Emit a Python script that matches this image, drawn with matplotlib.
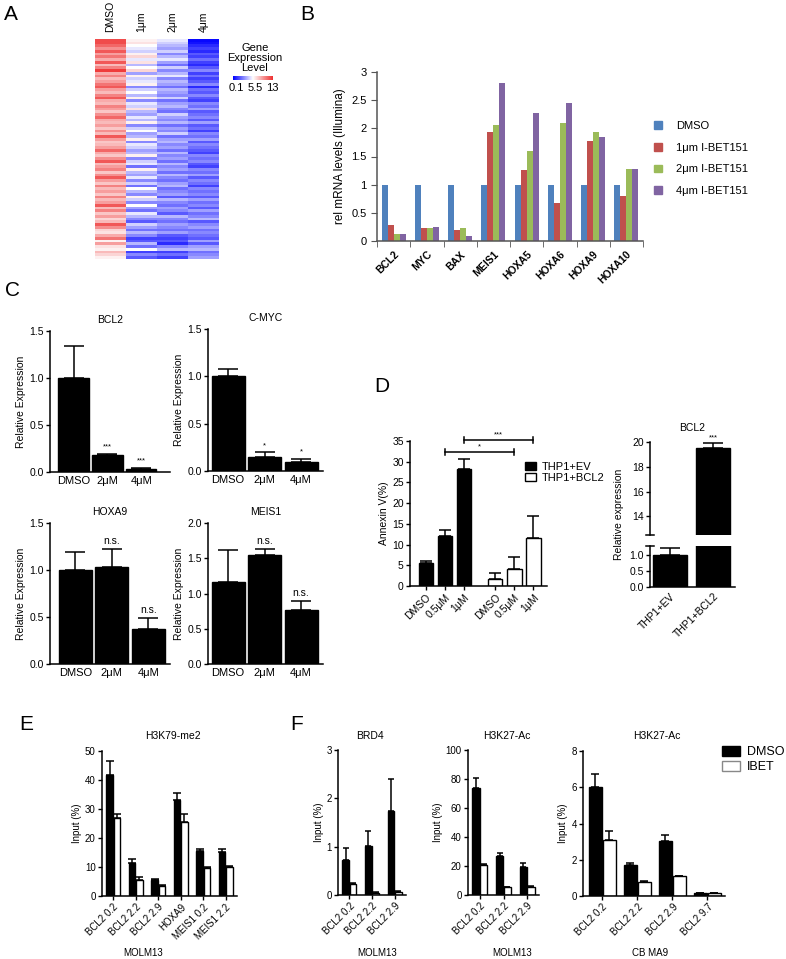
import numpy as np
import matplotlib
matplotlib.use("Agg")
import matplotlib.pyplot as plt
from matplotlib.colors import LinearSegmentedColormap, TwoSlopeNorm
from matplotlib.patches import Patch

plt.rcParams['font.family'] = ['Liberation Sans', 'DejaVu Sans']
plt.rcParams['axes.linewidth'] = 1.1

# ---------------- data ----------------
# A: heatmap (rows = genes, columns = treatments)
heat_cols = ["DMSO", "1μm", "2μm", "4μm"]
heat_dmso = [12, 12, 11, 9.5, 11.5, 9, 10.5, 8.5, 11.5, 8,
             10, 12.5, 8.5, 10, 8, 9, 10.5, 11.5, 9, 8,
             10, 11.5, 8.5, 8, 10, 9, 7.5, 9.5, 11, 8.5,
             8, 9, 7.5, 9.5, 8, 11.5, 9, 7.5, 8, 9,
             11, 8.5, 7.5, 9.5, 11.5, 8, 9, 10, 7.5, 9.5,
             11.5, 9, 7.5, 10, 8, 9, 7.5, 10, 8, 9,
             11.5, 8, 10, 7.5, 9, 7, 8, 11.5, 9.5, 7,
             6.5, 8.5, 10.5, 6, 9, 6.5, 6, 8, 7, 6]
heat_1um = [6, 6.5, 5.5, 5, 4.5, 6, 7, 5, 6.5, 4,
            5.5, 7, 3.5, 6, 4.5, 5, 6, 3, 4.5, 5.5,
            4, 6, 3, 5, 4.5, 6.5, 4, 3.5, 5, 4,
            6, 3, 4.5, 5.5, 3.5, 4, 6, 3, 5, 4.5,
            3.5, 4, 6, 3, 4.5, 5, 2.5, 6, 4, 3.5,
            5, 3, 4.5, 2.5, 5.5, 4, 3, 6, 4.5, 3,
            5.5, 3.5, 2.5, 5, 4, 3, 2, 4.5, 3.5, 2.5,
            4, 3, 1.5, 2, 4, 2.5, 5.5, 1.5, 3, 2]
heat_2um = [5, 4.5, 4, 3.5, 4.5, 3, 4, 5, 3.5, 2.5,
            4.5, 3, 4, 5, 3, 4, 3.5, 2.5, 4, 3.5,
            3, 4.5, 2.5, 3.5, 4, 3, 2.5, 4.5, 3.5, 3,
            4, 2.5, 3.5, 3, 4.5, 2.5, 3.5, 4, 3, 3.5,
            2.5, 4, 3, 3.5, 2.5, 4, 3, 3.5, 2.5, 4,
            3, 2.5, 3.5, 4, 2.5, 3, 3.5, 2, 4, 3,
            2.5, 3.5, 3, 2, 4, 3, 2.5, 3.5, 3, 2.5,
            3.5, 2, 1.5, 2, 1, 3, 4, 1.5, 2.5, 1.5]
heat_4um = [0.3, 0.5, 1, 1.5, 1, 2, 1.5, 2.5, 1.5, 1,
            2, 3, 1.5, 2.5, 1.5, 2, 3, 1, 2.5, 2,
            3, 2, 1.5, 3, 2.5, 3.5, 2, 2.5, 3, 2,
            3.5, 2, 2.5, 1.5, 3, 2.5, 3.5, 2, 3, 2.5,
            2, 1.5, 3, 2.5, 3, 2, 1.5, 3, 2.5, 3.5,
            2, 3, 2.5, 1.5, 3, 2.5, 3, 2, 3.5, 2.5,
            3, 2, 3.5, 2.5, 3, 4, 2, 3, 3.5, 2.5,
            3, 2.5, 2, 3.5, 2, 3.5, 4, 2.5, 3, 3.5]

# B: Illumina relative mRNA
b_genes = ["BCL2", "MYC", "BAX", "MEIS1", "HOXA5", "HOXA6", "HOXA9", "HOXA10"]
b_series = ["DMSO", "1μm I-BET151", "2μm I-BET151", "4μm I-BET151"]
b_dmso = [1, 1, 1, 1, 1, 1, 1, 1]
b_1um = [0.28, 0.23, 0.19, 1.94, 1.26, 0.68, 1.78, 0.80]
b_2um = [0.13, 0.23, 0.23, 2.06, 1.60, 2.09, 1.93, 1.27]
b_4um = [0.12, 0.24, 0.09, 2.80, 2.28, 2.45, 1.84, 1.27]
b_colors = ["#4F81BD", "#C0504D", "#9BBB59", "#8064A2"]

# C: qPCR relative expression
c_conds = ["DMSO", "2μM", "4μM"]
c_bcl2 = [1.0, 0.18, 0.035]
c_bcl2_err = [0.34, 0.015, 0.012]
c_bcl2_sig = ["", "***", "***"]
c_myc = [1.0, 0.15, 0.10]
c_myc_err = [0.08, 0.05, 0.03]
c_myc_sig = ["", "*", "*"]
c_hoxa9 = [1.0, 1.03, 0.37]
c_hoxa9_err = [0.19, 0.19, 0.12]
c_hoxa9_sig = ["", "n.s.", "n.s."]
c_meis1 = [1.17, 1.55, 0.77]
c_meis1_err = [0.45, 0.08, 0.13]
c_meis1_sig = ["", "n.s.", "n.s."]

# D: Annexin V and BCL2 expression
d_conds = ["DMSO", "0.5μM", "1μM", "DMSO", "0.5μM", "1μM"]
d_ev = [5.5, 12.0, 28.3]
d_ev_err = [0.5, 1.6, 2.4]
d_bcl2 = [1.6, 4.0, 11.7]
d_bcl2_err = [1.5, 3.0, 5.2]
d_lines = ["THP1+EV", "THP1+BCL2"]
d_expr = [1.0, 19.5]
d_expr_err = [0.22, 0.4]

# E/F: ChIP
e_sites = ["BCL2 0.2", "BCL2 2.2", "BCL2 2.9", "HOXA9", "MEIS1 0.2", "MEIS1 2.2"]
e_dmso = [41.8, 11.4, 5.4, 33.0, 15.4, 15.2]
e_dmso_err = [4.8, 1.4, 0.3, 2.6, 0.9, 1.1]
e_ibet = [26.8, 5.4, 3.4, 25.5, 9.8, 10.1]
e_ibet_err = [1.6, 1.0, 0.3, 2.9, 0.3, 0.4]

f_sites = ["BCL2 0.2", "BCL2 2.2", "BCL2 2.9"]
f_brd4_dmso = [0.73, 1.02, 1.73]
f_brd4_dmso_err = [0.24, 0.30, 0.68]
f_brd4_ibet = [0.22, 0.05, 0.07]
f_brd4_ibet_err = [0.02, 0.01, 0.02]
f_ac_dmso = [73.5, 26.8, 19.5]
f_ac_dmso_err = [7.5, 2.3, 2.3]
f_ac_ibet = [20.5, 5.2, 5.5]
f_ac_ibet_err = [0.6, 0.5, 0.8]
f_ma9_sites = ["BCL2 0.2", "BCL2 2.2", "BCL2 2.9", "BCL2 9.7"]
f_ma9_dmso = [6.0, 1.70, 3.05, 0.17]
f_ma9_dmso_err = [0.75, 0.10, 0.30, 0.02]
f_ma9_ibet = [3.1, 0.77, 1.08, 0.14]
f_ma9_ibet_err = [0.50, 0.05, 0.04, 0.02]

# ---------------- figure ----------------
W, H = 786, 959
fig = plt.figure(figsize=(W / 100, H / 100), dpi=100)


def px_axes(x0, y0, x1, y1):
    return fig.add_axes([x0 / W, 1 - y1 / H, (x1 - x0) / W, (y1 - y0) / H])


def ftext(x, y, s, **kw):
    return fig.text(x / W, 1 - y / H, s, **kw)


def style(ax, fs=7):
    ax.spines['top'].set_visible(False)
    ax.spines['right'].set_visible(False)
    ax.tick_params(direction='out', length=3, width=1, labelsize=fs, pad=1.5)


def up_bars(ax, x, vals, errs, width, face, cap, lw=1.0):
    ax.bar(x, vals, width, color=face, edgecolor='black', linewidth=lw)
    ax.errorbar(x, vals, yerr=[np.zeros(len(vals)), errs], fmt='none',
                ecolor='black', elinewidth=1.1, capsize=cap, capthick=1.1)


# panel letters
for letter, (lx, ly) in zip("ABCDEF", [(11, 15), (307, 15), (12, 290),
                                       (382, 386), (26, 725), (297, 725)]):
    ftext(lx, ly, letter, fontsize=15, ha='center', va='center')

# ---- A ----
heat = np.column_stack([heat_dmso, heat_1um, heat_2um, heat_4um])
cmap = LinearSegmentedColormap.from_list("bwr_a", ["#0000ff", "#ffffff", "#ee3030"])
norm = TwoSlopeNorm(vmin=0.1, vcenter=5.5, vmax=13)
axA = px_axes(95, 39, 219, 259)
axA.imshow(heat, aspect='auto', cmap=cmap, norm=norm, interpolation='nearest')
axA.axis('off')
for i, name in enumerate(heat_cols):
    axA.text(i, 1.03, name, transform=axA.get_xaxis_transform(),
             rotation=90, ha='center', va='bottom', fontsize=7.5)
cax = px_axes(233, 76, 273, 80)
cax.imshow(np.linspace(0, 1, 256)[None, :], aspect='auto', cmap=cmap)
cax.axis('off')
ftext(255, 58, "Gene\nExpression\nLevel", ha='center', va='center',
      fontsize=8, linespacing=1.05)
for s, tx in zip(["0.1", "5.5", "13"], [236, 255, 272]):
    ftext(tx, 88, s, ha='center', va='center', fontsize=8)

# ---- B ----
axB = px_axes(377, 72, 643, 241)
xb = np.arange(len(b_genes))
offs = [-0.27, -0.09, 0.09, 0.27]
for vals, col, off in zip([b_dmso, b_1um, b_2um, b_4um], b_colors, offs):
    axB.bar(xb + off, vals, 0.18, color=col)
axB.set_xlim(-0.5, len(b_genes) - 0.5)
axB.set_ylim(0, 3)
axB.set_yticks(np.arange(0, 3.01, 0.5))
axB.set_yticklabels(["0", "0.5", "1", "1.5", "2", "2.5", "3"])
axB.set_xticks(xb)
axB.set_xticklabels(b_genes, rotation=45, ha='right', rotation_mode='anchor',
                    fontweight='bold', fontsize=7.5)
axB.set_xticks(np.arange(-0.5, len(b_genes)), minor=True)
axB.tick_params(axis='x', which='major', length=0, pad=6)
axB.tick_params(axis='x', which='minor', length=4, direction='out', color='#555555')
axB.tick_params(axis='y', length=4, direction='out', labelsize=8, color='#555555')
for s in ('top', 'right'):
    axB.spines[s].set_visible(False)
for s in ('left', 'bottom'):
    axB.spines[s].set_color('#555555')
axB.set_ylabel("rel mRNA levels (Illumina)", fontsize=8.5, labelpad=4)
axB.legend([Patch(color=c) for c in b_colors], b_series, loc='upper left',
           bbox_to_anchor=(654 / W, 1 - 121 / H), bbox_transform=fig.transFigure,
           frameon=False, fontsize=8, handlelength=0.7, handleheight=0.7,
           labelspacing=1.05, handletextpad=1.3, borderpad=0, borderaxespad=0)

# ---- C ----
c_panels = [
    ((50, 331, 170, 472), "BCL2", c_bcl2, c_bcl2_err, c_bcl2_sig, 1.5, (-0.7, 2.85)),
    ((208, 329, 323, 471), "C-MYC", c_myc, c_myc_err, c_myc_sig, 1.5, (-0.55, 2.6)),
    ((50, 523, 170, 664), "HOXA9", c_hoxa9, c_hoxa9_err, c_hoxa9_sig, 1.5, (-0.7, 2.6)),
    ((208, 523, 323, 664), "MEIS1", c_meis1, c_meis1_err, c_meis1_sig, 2.0, (-0.55, 2.6)),
]
for rect, title, vals, errs, sigs, ymax, xl in c_panels:
    ax = px_axes(*rect)
    style(ax, 7.5)
    xc = np.arange(len(c_conds))
    up_bars(ax, xc, vals, errs, 0.9, 'black', 7.5)
    ax.set_xlim(*xl)
    ax.set_ylim(0, ymax)
    ax.set_yticks(np.arange(0, ymax + 0.01, 0.5))
    ax.set_yticklabels([f"{v:.1f}" for v in np.arange(0, ymax + 0.01, 0.5)])
    ax.set_xticks(xc)
    ax.set_xticklabels(c_conds, fontsize=8)
    ax.tick_params(axis='x', length=0, pad=3)
    ax.set_ylabel("Relative Expression", fontsize=7.5, labelpad=2)
    ax.set_title(title, fontsize=7.5, pad=6)
    for xi, v, e, s in zip(xc, vals, errs, sigs):
        if s:
            fs = 5.5 if '*' in s else 7.5
            ax.text(xi, v + e + ymax * 0.02, s, ha='center', va='bottom', fontsize=fs)

# ---- D left ----
axD = px_axes(410, 441, 547, 586)
style(axD, 7.5)
xd_ev = np.array([0, 1, 2])
xd_bc = np.array([3.65, 4.65, 5.65])
up_bars(axD, xd_ev, d_ev, d_ev_err, 0.74, 'black', 4)
up_bars(axD, xd_bc, d_bcl2, d_bcl2_err, 0.74, 'white', 4)
axD.set_xlim(-0.84, 6.36)
axD.set_ylim(0, 35)
axD.set_yticks(np.arange(0, 36, 5))
axD.set_xticks(np.concatenate([xd_ev, xd_bc]))
axD.set_xticklabels(d_conds, rotation=45, ha='right', rotation_mode='anchor', fontsize=7.5)
axD.set_ylabel("Annexin V(%)", fontsize=7.5, labelpad=2)
for (x0, x1, yb, s) in [(1, 4.65, 32.4, "*"), (2, 5.65, 35.2, "***")]:
    axD.plot([x0, x1], [yb, yb], color='black', lw=1.1, clip_on=False)
    axD.plot([x0, x0], [yb - 0.7, yb + 0.7], color='black', lw=1.1, clip_on=False)
    axD.plot([x1, x1], [yb - 0.7, yb + 0.7], color='black', lw=1.1, clip_on=False)
    axD.text((x0 + x1) / 2, yb + 0.4, s, ha='center', va='bottom', fontsize=5.5, clip_on=False)
axD.legend([Patch(facecolor='black', edgecolor='black'),
            Patch(facecolor='white', edgecolor='black')], d_lines,
           loc='upper left', bbox_to_anchor=(525 / W, 1 - 462 / H),
           bbox_transform=fig.transFigure, frameon=False, fontsize=8,
           handlelength=1.0, handleheight=0.7, labelspacing=0.05,
           handletextpad=0.5, borderpad=0, borderaxespad=0)

# ---- D right (broken axis) ----
xr = np.arange(len(d_lines))
axT = px_axes(650, 442, 735, 535)
axL = px_axes(650, 546, 735, 587)
for ax in (axT, axL):
    style(ax, 7.5)
    up_bars(ax, xr, d_expr, d_expr_err, 0.79, 'black', 7)
    ax.set_xlim(-0.47, 1.51)
axT.set_ylim(12.5, 20)
axT.set_yticks([14, 16, 18, 20])
axT.spines['bottom'].set_visible(False)
axT.set_xticks([])
axT.set_title("BCL2", fontsize=7.5, pad=8)
axT.text(1, 19.5 + 0.4 + 0.15, "***", ha='center', va='bottom', fontsize=5.5)
axL.set_ylim(0, 1.28)
axL.set_yticks([0, 0.5, 1.0])
axL.set_yticklabels(["0.0", "0.5", "1.0"])
axL.set_xticks(xr)
axL.set_xticklabels(d_lines, rotation=45, ha='right', rotation_mode='anchor', fontsize=7.5)
axL.tick_params(axis='x', length=0, pad=3)
for ax, yv in ((axT, 12.5), (axL, 1.28)):
    ax.plot([-0.56, -0.38], [yv, yv], color='black', lw=1.1, clip_on=False)
ftext(619, 514, "Relative expression", rotation=90, ha='center', va='center', fontsize=7.5)

# ---- E / F ----
chip = [
    ((102, 751, 237, 896), e_sites, e_dmso, e_dmso_err, e_ibet, e_ibet_err,
     50, 10, 0.29, 0.16, (-0.5, 5.5), 3),
    ((338, 750, 406, 895), f_sites, f_brd4_dmso, f_brd4_dmso_err, f_brd4_ibet, f_brd4_ibet_err,
     3, 1, 0.3, 0.16, (-0.5, 2.5), 2),
    ((468, 750, 539, 895), f_sites, f_ac_dmso, f_ac_dmso_err, f_ac_ibet, f_ac_ibet_err,
     100, 20, 0.3, 0.16, (-0.5, 2.5), 2),
    ((583, 751, 725, 896), f_ma9_sites, f_ma9_dmso, f_ma9_dmso_err, f_ma9_ibet, f_ma9_ibet_err,
     8, 2, 0.38, 0.2, (-0.55, 3.5), 3),
]
chip_axes = []
for rect, sites, dv, de, iv, ie, ymax, step, bw, off, xl, cap in chip:
    ax = px_axes(*rect)
    style(ax, 7)
    xs = np.arange(len(sites))
    up_bars(ax, xs - off, dv, de, bw, 'black', cap)
    up_bars(ax, xs + off, iv, ie, bw, 'white', cap)
    ax.set_xlim(*xl)
    ax.set_ylim(0, ymax)
    ax.set_yticks(np.arange(0, ymax + 0.01, step))
    ax.set_xticks(xs)
    ax.set_xticklabels(sites, rotation=45, ha='right', rotation_mode='anchor', fontsize=7)
    ax.set_ylabel("Input (%)", fontsize=7, labelpad=2)
    chip_axes.append(ax)

for s, tx in zip(["H3K79-me2", "BRD4", "H3K27-Ac", "H3K27-Ac"], [173, 370, 507, 657]):
    ftext(tx, 736, s, ha='center', va='center', fontsize=7.5)
for s, tx in zip(["MOLM13", "MOLM13", "MOLM13", "CB MA9"], [143, 377, 512, 650]):
    ftext(tx, 953, s, ha='center', va='center', fontsize=7)

chip_axes[-1].legend([Patch(facecolor='black', edgecolor='black'),
                      Patch(facecolor='white', edgecolor='#888888')], ["DMSO", "IBET"],
                     loc='upper left', bbox_to_anchor=(722 / W, 1 - 746 / H),
                     bbox_transform=fig.transFigure, frameon=False, fontsize=9,
                     handlelength=1.4, handleheight=0.8, labelspacing=0.25,
                     handletextpad=0.6, borderpad=0, borderaxespad=0)

fig.savefig("out.png", dpi=100)
